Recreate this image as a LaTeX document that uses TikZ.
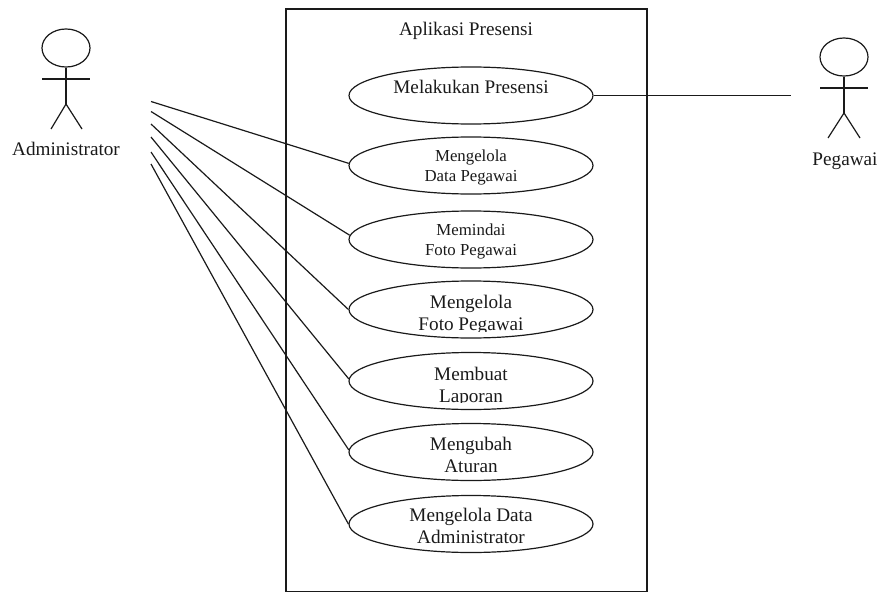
\documentclass[tikz,border=0pt]{standalone}
\usepackage{fontspec}
\setmainfont{Liberation Serif}
\definecolor{ink}{HTML}{1A1A1A}
\tikzset{
  x=1pt,y=-1pt,
  line/.style={draw=ink,line width=1.2pt},
  sysbox/.style={draw=ink,line width=1.8pt},
  usecase/.style={ellipse,draw=ink,line width=1.2pt,minimum width=244pt,minimum height=57pt,inner sep=0pt},
  big/.style={text=ink,font=\fontsize{19.2}{22}\selectfont,align=center,inner sep=0pt,anchor=base},
  small/.style={text=ink,font=\fontsize{16.8}{20}\selectfont,align=center,inner sep=0pt,anchor=base},
}
\usetikzlibrary{shapes.geometric}
\begin{document}
\begin{tikzpicture}
\useasboundingbox (0,0) rectangle (882,591);
\node[sysbox,rectangle,minimum width=360.5pt,minimum height=583pt,anchor=north west,inner sep=0pt] (sys) at (285.2,8) {};
\node[big] (title) at (466,36) {Aplikasi Presensi};
% use cases
\node[usecase] (u1) at (471,95.5) {};
\node[usecase] (u2) at (471,165.5) {};
\node[usecase] (u3) at (471,239.5) {};
\node[usecase] (u4) at (471,309.5) {};
\node[usecase] (u5) at (471,381) {};
\node[usecase] (u6) at (471,452) {};
\node[usecase] (u7) at (471,524) {};
\node[big] (t1) at (471,94) {Melakukan Presensi};
\node[small] (t2) at (471,181.7) {Mengelola\\Data Pegawai};
\node[small] (t3) at (471,255) {Memindai\\Foto Pegawai};
\begin{scope}
\clip (300,280) rectangle (640,331);
\node[big] (t4) at (471,330) {Mengelola\\Foto Pegawai};
\end{scope}
\begin{scope}
\clip (300,350) rectangle (640,402.5);
\node[big] (t5) at (471,402) {Membuat\\Laporan};
\end{scope}
\node[big] (t6) at (471,472) {Mengubah\\Aturan};
\node[big] (t7) at (471,543) {Mengelola Data\\Administrator};
% Administrator actor
\node[ellipse,line,minimum width=48pt,minimum height=38pt,inner sep=0pt] (headA) at (66,48) {};
\coordinate (neckA) at (headA.south);
\coordinate (hipA) at (66,104);
\draw[line] (neckA) -- (hipA);
\draw[line] (42,79) -- (90,79);
\draw[line] (51,129) -- (hipA) -- (82,129);
\node[big] (labA) at (66,155) {Administrator};
% Pegawai actor
\node[ellipse,line,minimum width=48pt,minimum height=38pt,inner sep=0pt] (headB) at (844,57) {};
\coordinate (neckB) at (headB.south);
\coordinate (hipB) at (844,113);
\draw[line] (neckB) -- (hipB);
\draw[line] (820,88) -- (868,88);
\draw[line] (828,138) -- (hipB) -- (860,138);
\node[big] (labB) at (845,165) {Pegawai};
% connectors
\coordinate (a1) at (151,101.5);
\coordinate (a2) at (151,111.5);
\coordinate (a3) at (151,124);
\coordinate (a4) at (151,137);
\coordinate (a5) at (151,152);
\coordinate (a6) at (151,164);
\coordinate (b1) at (791,95.5);
\draw[line] (a1) -- (u2.179);
\draw[line] (a2) -- (u3.178);
\draw[line] (a3) -- (u4.west);
\draw[line] (a4) -- (u5.179);
\draw[line] (a5) -- (u6.179);
\draw[line] (a6) -- (u7.west);
\draw[line] (u1.east) -- (b1);
\end{tikzpicture}
\end{document}
